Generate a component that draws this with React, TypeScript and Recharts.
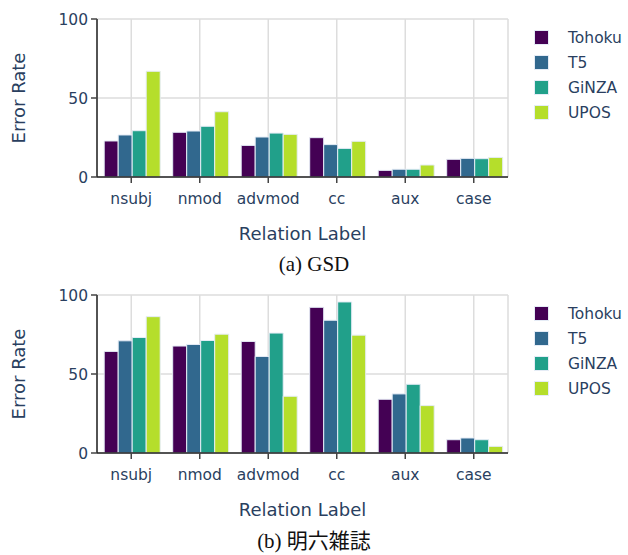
import React from 'react';
import { BarChart, Bar, XAxis, YAxis, CartesianGrid, Legend } from 'recharts';

const labels = ['nsubj', 'nmod', 'advmod', 'cc', 'aux', 'case'];
const models = ['Tohoku', 'T5', 'GiNZA', 'UPOS'];
const colors = ['#440154', '#31688e', '#21a08a', '#b5de2b'];

// (a) GSD
const gsdTohoku = [22.8, 28.3, 20.0, 24.9, 4.2, 11.2];
const gsdT5 = [26.6, 29.1, 25.3, 20.5, 4.9, 11.8];
const gsdGinza = [29.3, 32.1, 27.8, 18.1, 4.9, 11.6];
const gsdUpos = [66.9, 41.3, 27.0, 22.6, 7.6, 12.4];

// (b) 明六雑誌
const meirokuTohoku = [64.3, 67.7, 70.6, 92.2, 34.0, 8.4];
const meirokuT5 = [71.0, 68.7, 61.1, 84.0, 37.4, 9.5];
const meirokuGinza = [73.1, 71.2, 75.9, 95.6, 43.5, 8.4];
const meirokuUpos = [86.3, 75.2, 35.9, 74.6, 30.0, 4.2];

const yTicks = [0, 50, 100];

const FONT = "'DejaVu Sans', Verdana, sans-serif";
const TEXT = '#2a3f5f';

const build = (series: number[][]) =>
  labels.map((label, i) => {
    const row: any = { label };
    models.forEach((m, j) => {
      row[m] = series[j][i];
    });
    return row;
  });

const LegendBox = () => (
  <div style={{ fontFamily: FONT, fontSize: 15.5, color: TEXT }}>
    {models.map((m, i) => (
      <div key={m} style={{ display: 'flex', alignItems: 'center', height: 25 }}>
        <span
          style={{
            width: 15,
            height: 15,
            background: colors[i],
            border: '1px solid #e5ecf6',
            boxSizing: 'border-box',
            marginRight: 19,
          }}
        />
        <span>{m}</span>
      </div>
    ))}
  </div>
);

const YTitle = ({ viewBox }: any) => {
  const cy = viewBox.y + viewBox.height / 2;
  return (
    <text
      x={18}
      y={cy}
      transform={`rotate(-90 18 ${cy})`}
      textAnchor="middle"
      dominantBaseline="central"
      fill={TEXT}
      fontSize={18}
      fontFamily={FONT}
    >
      Error Rate
    </text>
  );
};

const Panel = ({ data }: { data: any[] }) => (
  <BarChart
    width={628}
    height={250}
    data={data}
    margin={{ top: 19, right: 120, bottom: 0, left: 0 }}
    barCategoryGap="10.5%"
    barGap={0}
  >
    <CartesianGrid stroke="#dddddd" strokeWidth={1.5} />
    <XAxis
      dataKey="label"
      height={73}
      tickSize={6}
      tickMargin={10}
      tick={{ fill: TEXT, fontSize: 15.5, fontFamily: FONT }}
      axisLine={{ stroke: '#222', strokeWidth: 1.5 }}
      tickLine={{ stroke: '#444', strokeWidth: 1.5 }}
      label={{ value: 'Relation Label', position: 'insideBottom', offset: 10, fill: TEXT, fontSize: 18, fontFamily: FONT }}
    />
    <XAxis xAxisId="top" orientation="top" dataKey="label" height={0} tick={false} tickLine={false} axisLine={{ stroke: '#222', strokeWidth: 1.5 }} />
    <YAxis
      domain={[0, 100]}
      ticks={yTicks}
      width={97}
      tickSize={6}
      tickMargin={3}
      tick={{ fill: TEXT, fontSize: 15.5, fontFamily: FONT }}
      axisLine={{ stroke: '#222', strokeWidth: 1.5 }}
      tickLine={{ stroke: '#444', strokeWidth: 1.5 }}
      label={<YTitle />}
    />
    <YAxis yAxisId="right" orientation="right" width={0} domain={[0, 100]} tick={false} tickLine={false} axisLine={{ stroke: '#222', strokeWidth: 1.5 }} />
    <Legend
      layout="vertical"
      align="center"
      verticalAlign="middle"
      content={<LegendBox />}
      wrapperStyle={{ left: 534, top: 25, width: 100 }}
    />
    {models.map((m, i) => (
      <Bar key={m} dataKey={m} fill={colors[i]} stroke="#e5ecf6" strokeWidth={1} isAnimationActive={false} />
    ))}
  </BarChart>
);

const Caption = ({ text, top }: { text: string; top: number }) => (
  <div
    style={{
      position: 'absolute',
      top,
      left: 0,
      width: 628,
      textAlign: 'center',
      fontFamily: "'Liberation Serif', 'Noto Sans CJK JP', serif",
      fontSize: 21,
      color: '#111',
      lineHeight: '24px',
    }}
  >
    {text}
  </div>
);

export default function App() {
  return (
    <div style={{ position: 'absolute', left: 0, top: 0, width: 628, height: 555, background: '#fff' }}>
      <div style={{ position: 'absolute', left: 0, top: 0 }}>
        <Panel data={build([gsdTohoku, gsdT5, gsdGinza, gsdUpos])} />
      </div>
      <Caption text="(a) GSD" top={252} />
      <div style={{ position: 'absolute', left: 0, top: 276 }}>
        <Panel data={build([meirokuTohoku, meirokuT5, meirokuGinza, meirokuUpos])} />
      </div>
      <Caption text="(b) 明六雑誌" top={529} />
    </div>
  );
}
